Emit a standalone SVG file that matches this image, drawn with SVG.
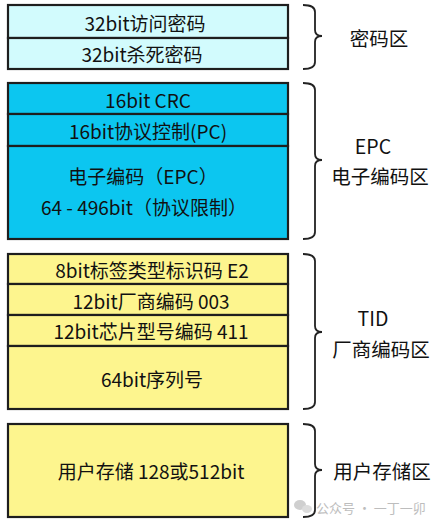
<svg xmlns="http://www.w3.org/2000/svg" width="438" height="525" viewBox="0 0 438 525">
<style>
text{font-family:"Noto Sans CJK SC","Noto Sans",sans-serif;fill:#111;text-anchor:middle;dominant-baseline:central}
.cell{font-size:19px}
.lab{font-size:19.5px}
.box{stroke:#1e1e1e;stroke-width:2.2}
.c1{fill:#d2fbfd}
.c2{fill:#0cc6f0}
.c3{fill:#fdf58e}
.brace{fill:none;stroke:#222;stroke-width:1.8}
.wm{font-size:13px;fill:#bdbdbd;text-anchor:start}
</style>
<rect width="438" height="525" fill="#fff"/>
<g id="password">
<rect class="box c1" x="8" y="5" width="280" height="33"/>
<rect class="box c1" x="8" y="38" width="280" height="31"/>
<text class="cell" x="145" y="22">32bit访问密码</text>
<text class="cell" x="142" y="53">32bit杀死密码</text>
</g>
<g id="epc">
<rect class="box c2" x="8" y="83" width="280" height="31"/>
<rect class="box c2" x="8" y="114" width="280" height="32"/>
<rect class="box c2" x="8" y="146" width="280" height="93"/>
<text class="cell" x="148" y="99">16bit CRC</text>
<text class="cell" x="148" y="130">16bit协议控制(PC)</text>
<text class="cell" x="143" y="175">电子编码（EPC）</text>
<text class="cell" x="144" y="206">64 - 496bit（协议限制）</text>
</g>
<g id="tid">
<rect class="box c3" x="8" y="254" width="280" height="30"/>
<rect class="box c3" x="8" y="284" width="280" height="31"/>
<rect class="box c3" x="8" y="315" width="280" height="31"/>
<rect class="box c3" x="8" y="346" width="280" height="63"/>
<text class="cell" x="152" y="269">8bit标签类型标识码 E2</text>
<text class="cell" x="151" y="300">12bit厂商编码 003</text>
<text class="cell" x="151" y="330">12bit芯片型号编码 411</text>
<text class="cell" x="152" y="378">64bit序列号</text>
</g>
<g id="user">
<rect class="box c3" x="8" y="424" width="280" height="93"/>
<text class="cell" x="151" y="470">用户存储 128或512bit</text>
</g>
<g id="connectors">
<path class="brace" d="M303,5 Q315,5 315,12 L315,30 Q315,36 322,36 Q315,36 315,42 L315,62 Q315,69 303,69"/>
<path class="brace" d="M303,83 Q315,83 315,90 L315,154 Q315,160 322,160 Q315,160 315,166 L315,232 Q315,239 303,239"/>
<path class="brace" d="M303,254 Q315,254 315,261 L315,326 Q315,332 322,332 Q315,332 315,338 L315,402 Q315,409 303,409"/>
<path class="brace" d="M303,424 Q315,424 315,431 L315,464 Q315,470 322,470 Q315,470 315,476 L315,510 Q315,517 303,517"/>
</g>
<g id="labels">
<text class="lab" x="373" y="145">EPC</text>
<text class="lab" x="380" y="175">电子编码区</text>
<text class="lab" x="379" y="37">密码区</text>
<text class="lab" x="373" y="317">TID</text>
<text class="lab" x="381" y="348">厂商编码区</text>
<text class="lab" x="382" y="470">用户存储区</text>
</g>
<g id="watermark">
<ellipse cx="300" cy="505" rx="6" ry="5" fill="#cfcfcf"/>
<ellipse cx="307" cy="509" rx="5" ry="4" fill="#dcdcdc"/>
<text class="wm" x="316" y="507">公众号 · 一丁一卯</text>
</g>
</svg>
